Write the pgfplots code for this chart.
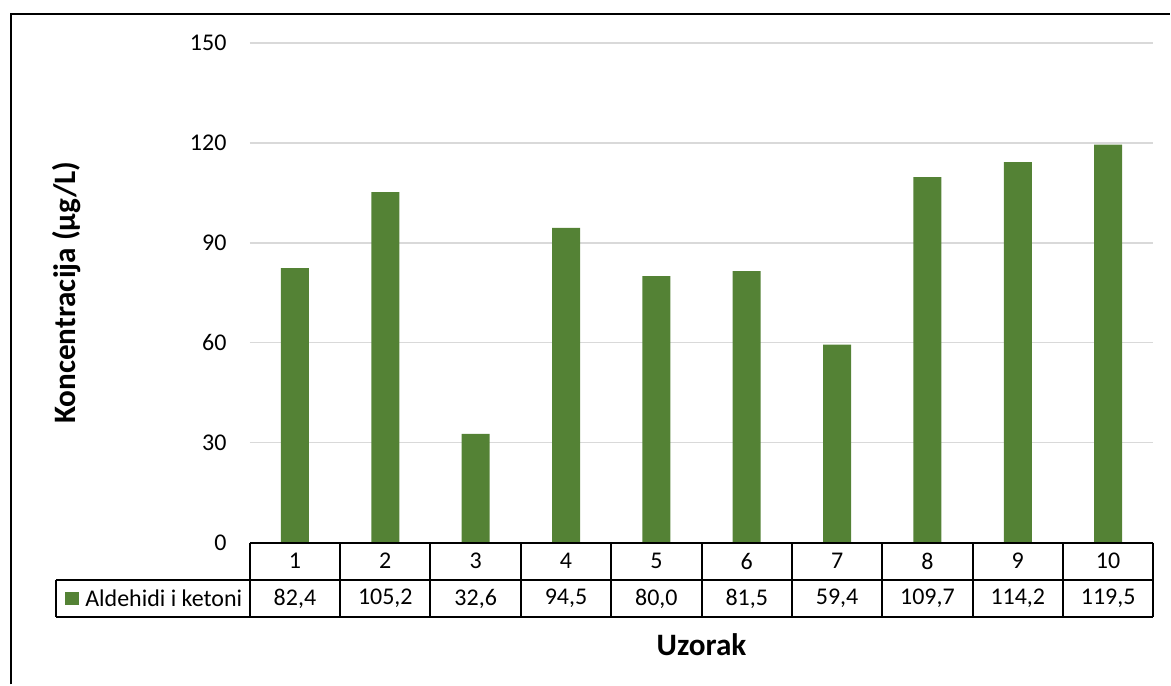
\documentclass[border=0pt]{standalone}
\usepackage{pgfplots}
\pgfplotsset{compat=1.18}
\usepackage{fontspec}
\setmainfont{Carlito}
\definecolor{barg}{RGB}{84,130,53}
\definecolor{gridg}{RGB}{217,217,217}
\begin{document}
\begin{tikzpicture}
\begin{scope}[x=0.5pt,y=-0.5pt]
\path (0,0) rectangle (1171,685);
\draw[line width=1pt] (11,685) -- (11,14) -- (1171,14);
\end{scope}
\begin{axis}[at={(125pt,-271.5pt)}, anchor=south west, scale only axis,
  width=452.15pt, height=250pt,
  xmin=0.5, xmax=10.5, ymin=0, ymax=150, ytick={0,30,...,150}, xtick=\empty,
  axis line style={draw=none}, major tick length=0pt,
  ymajorgrids, grid style={gridg, line width=0.75pt},
  /pgf/number format/assume math mode=true,
  yticklabel style={font=\fontsize{12pt}{14pt}\selectfont, anchor=east, inner sep=0pt, xshift=-11.5pt},
  ylabel={Koncentracija (µg/L)},
  ylabel style={at={(rel axis cs:-0.2024,0.5)}, anchor=center, font=\fontsize{15.6pt}{18pt}\selectfont\bfseries},
  xlabel={Uzorak},
  xlabel style={at={(rel axis cs:0.5,-0.204)}, anchor=center, font=\fontsize{15.6pt}{18pt}\selectfont\bfseries},
  clip=false]
\addplot[ybar, bar width=14pt, fill=barg, draw=none] coordinates {
 (1,82.4) (2,105.2) (3,32.6) (4,94.5) (5,80.0) (6,81.5) (7,59.4) (8,109.7) (9,114.2) (10,119.5)};
\end{axis}
\begin{scope}[x=0.5pt,y=-0.5pt, font=\fontsize{12pt}{14pt}\selectfont]
\draw[line width=1pt] (250,543) -- (1154.3,543);
\draw[line width=1pt] (56,580) -- (1154.3,580);
\draw[line width=1pt] (56,617.7) -- (1154.3,617.7);
\draw[line width=1pt] (56,580) -- (56,617.7);
\foreach \i in {0,...,10} {
  \draw[line width=1pt] ({250+90.43*\i},543) -- ({250+90.43*\i},617.7);
}
\foreach \i in {1,...,10} {
  \node at ({250+90.43*(\i-0.5)},561.5) {\i};
}
\foreach \v [count=\i] in {{82,4},{105,2},{32,6},{94,5},{80,0},{81,5},{59,4},{109,7},{114,2},{119,5}} {
  \node at ({250+90.43*(\i-0.5)},599) {\v};
}
\fill[barg] (65,592) rectangle (79,606);
\node[anchor=west, inner sep=0pt] at (85,599) {Aldehidi i ketoni};
\end{scope}
\end{tikzpicture}
\end{document}
